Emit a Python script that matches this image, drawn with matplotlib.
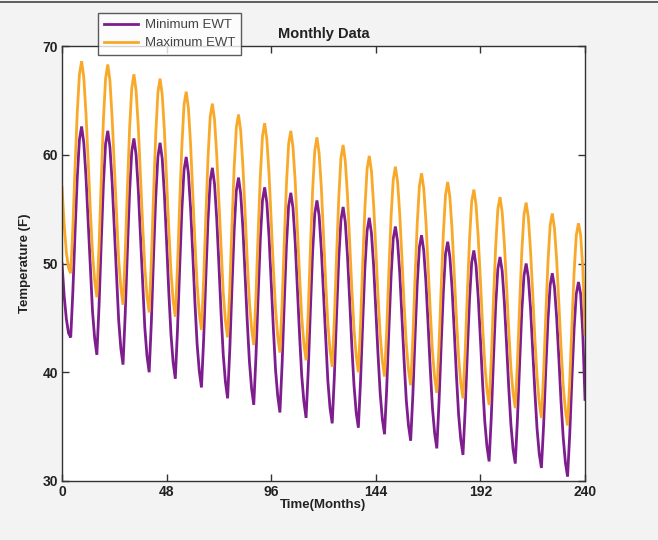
import numpy as np
import matplotlib
matplotlib.use("Agg")
import matplotlib.pyplot as plt
from matplotlib.lines import Line2D

plt.rcParams['font.family'] = ['Liberation Sans', 'DejaVu Sans']

# Monthly entering water temperatures (F), months 0..240
min_ewt = [
    50.0, 47.0, 44.9, 43.6, 43.2, 47.5, 52.9, 57.9, 61.4, 62.6, 61.1, 58.0,
    53.8, 49.4, 45.6, 43.1, 41.6, 46.1, 51.9, 57.3, 61.0, 62.2, 60.7, 57.5,
    53.2, 48.7, 44.8, 42.2, 40.7, 45.3, 51.1, 56.5, 60.3, 61.5, 60.0, 56.8,
    52.5, 48.0, 44.1, 41.5, 40.0, 44.6, 50.6, 56.0, 59.8, 61.1, 59.6, 56.3,
    52.0, 47.4, 43.5, 40.9, 39.4, 43.9, 49.6, 54.9, 58.6, 59.8, 58.3, 55.1,
    50.9, 46.4, 42.6, 40.1, 38.6, 43.0, 48.7, 54.0, 57.6, 58.8, 57.3, 54.1,
    49.9, 45.4, 41.6, 39.1, 37.6, 42.1, 47.8, 53.0, 56.7, 57.9, 56.4, 53.3,
    49.1, 44.7, 41.0, 38.5, 37.0, 41.4, 47.0, 52.2, 55.8, 57.0, 55.6, 52.5,
    48.3, 44.0, 40.2, 37.8, 36.3, 40.7, 46.4, 51.7, 55.3, 56.5, 55.1, 52.0,
    47.8, 43.5, 39.7, 37.3, 35.8, 40.2, 45.8, 51.0, 54.6, 55.8, 54.4, 51.3,
    47.2, 42.9, 39.2, 36.7, 35.3, 39.7, 45.3, 50.4, 54.0, 55.2, 53.8, 50.7,
    46.7, 42.4, 38.8, 36.3, 34.9, 39.2, 44.6, 49.6, 53.0, 54.2, 52.8, 49.8,
    45.8, 41.7, 38.1, 35.7, 34.3, 38.5, 43.9, 48.8, 52.3, 53.4, 52.0, 49.1,
    45.1, 41.0, 37.4, 35.1, 33.7, 37.9, 43.2, 48.1, 51.5, 52.6, 51.2, 48.3,
    44.4, 40.3, 36.7, 34.4, 33.0, 37.2, 42.5, 47.4, 50.9, 52.0, 50.6, 47.7,
    43.8, 39.7, 36.1, 33.8, 32.4, 36.5, 41.8, 46.7, 50.1, 51.2, 49.8, 46.9,
    43.1, 39.0, 35.5, 33.2, 31.8, 35.9, 41.2, 46.1, 49.5, 50.6, 49.3, 46.4,
    42.6, 38.6, 35.2, 32.9, 31.6, 35.7, 40.8, 45.6, 48.9, 50.0, 48.7, 45.9,
    42.1, 38.2, 34.8, 32.5, 31.2, 35.1, 40.2, 44.8, 48.0, 49.1, 47.8, 45.0,
    41.3, 37.3, 34.0, 31.7, 30.4, 34.3, 39.4, 44.0, 47.2, 48.3, 47.2, 43.5,
    37.5,
]

max_ewt = [
    57.0, 53.6, 51.0, 49.6, 49.1, 53.4, 58.9, 63.9, 67.4, 68.6, 67.1, 63.8,
    59.5, 54.9, 51.0, 48.4, 46.9, 51.6, 57.6, 63.2, 67.0, 68.3, 66.8, 63.4,
    59.0, 54.4, 50.4, 47.8, 46.2, 50.9, 56.8, 62.3, 66.1, 67.4, 65.9, 62.6,
    58.2, 53.6, 49.7, 47.0, 45.5, 50.2, 56.3, 61.8, 65.7, 67.0, 65.5, 62.2,
    57.8, 53.2, 49.3, 46.6, 45.1, 49.7, 55.5, 60.8, 64.6, 65.8, 64.3, 61.0,
    56.6, 52.0, 48.1, 45.4, 43.9, 48.5, 54.3, 59.7, 63.5, 64.7, 63.2, 60.0,
    55.7, 51.2, 47.3, 44.7, 43.2, 47.7, 53.5, 58.8, 62.5, 63.7, 62.2, 59.0,
    54.8, 50.3, 46.5, 44.0, 42.5, 47.0, 52.7, 58.0, 61.7, 62.9, 61.4, 58.3,
    54.0, 49.6, 45.8, 43.3, 41.8, 46.3, 52.0, 57.3, 61.0, 62.2, 60.7, 57.6,
    53.3, 48.9, 45.1, 42.6, 41.1, 45.6, 51.4, 56.7, 60.4, 61.6, 60.1, 57.0,
    52.7, 48.3, 44.5, 42.0, 40.5, 45.0, 50.7, 56.0, 59.7, 60.9, 59.4, 56.3,
    52.1, 47.7, 44.0, 41.5, 40.0, 44.4, 50.0, 55.1, 58.7, 59.9, 58.5, 55.4,
    51.4, 47.1, 43.5, 41.0, 39.6, 43.8, 49.3, 54.3, 57.7, 58.9, 57.5, 54.5,
    50.5, 46.2, 42.6, 40.2, 38.8, 43.1, 48.6, 53.6, 57.1, 58.3, 56.9, 53.9,
    49.8, 45.6, 41.9, 39.5, 38.1, 42.4, 47.8, 52.8, 56.3, 57.5, 56.1, 53.1,
    49.1, 45.0, 41.4, 39.0, 37.6, 41.8, 47.2, 52.2, 55.7, 56.8, 55.4, 52.4,
    48.5, 44.3, 40.8, 38.4, 37.0, 41.2, 46.6, 51.5, 55.0, 56.1, 54.7, 51.8,
    48.0, 43.9, 40.4, 38.1, 36.7, 40.9, 46.2, 51.1, 54.5, 55.6, 54.2, 51.2,
    47.3, 43.1, 39.6, 37.2, 35.8, 39.9, 45.2, 50.1, 53.5, 54.6, 53.2, 50.3,
    46.4, 42.3, 38.8, 36.5, 35.1, 39.2, 44.4, 49.2, 52.6, 53.7, 52.6, 49.5,
    43.5,
]

months = np.arange(len(min_ewt))
x_ticks = [0, 48, 96, 144, 192, 240]
y_ticks = [30, 40, 50, 60, 70]

purple = '#7e1d8e'
orange = '#f8a92a'

fig = plt.figure(figsize=(6.58, 5.40), dpi=100, facecolor='#f3f3f3')
ax = fig.add_axes([62/658, 59/540, 523/658, 435/540])
ax.set_facecolor('white')

ax.plot(months, min_ewt, color=purple, lw=2.0, label='Minimum EWT',
        solid_joinstyle='miter')
ax.plot(months, max_ewt, color=orange, lw=2.0, label='Maximum EWT',
        solid_joinstyle='miter')

ax.set_xlim(0, 240)
ax.set_ylim(30, 70)
ax.set_xticks(x_ticks)
ax.set_yticks(y_ticks)
ax.tick_params(direction='in', top=True, right=True, length=5, width=1,
               color='#333333', labelsize=10, pad=3)
for lab in ax.get_xticklabels() + ax.get_yticklabels():
    lab.set_fontweight('bold')
    lab.set_color('#222222')
for s in ax.spines.values():
    s.set_color('#333333')
    s.set_linewidth(1.0)

ax.set_xlabel('Time(Months)', fontsize=9.5, fontweight='bold', color='#222222',
              labelpad=0)
ax.set_ylabel('Temperature (F)', fontsize=9.5, fontweight='bold', color='#222222',
              labelpad=8)
ax.set_title('Monthly Data', fontsize=10.5, fontweight='bold', color='#222222',
             pad=6)

leg = ax.legend(loc='upper left', bbox_to_anchor=(98/658, 1 - 13/540),
                bbox_transform=fig.transFigure, borderaxespad=0,
                fontsize=9.5, frameon=True, fancybox=False, handlelength=2.6,
                handletextpad=0.5, borderpad=0.45, labelspacing=0.45)
leg.get_frame().set_edgecolor('#333333')
leg.get_frame().set_linewidth(1.0)
for t in leg.get_texts():
    t.set_color('#444444')

fig.add_artist(Line2D([0, 1], [1 - 2/540, 1 - 2/540], transform=fig.transFigure,
                      color='#444444', lw=1.2))

fig.savefig('out.png', dpi=100, facecolor=fig.get_facecolor())
